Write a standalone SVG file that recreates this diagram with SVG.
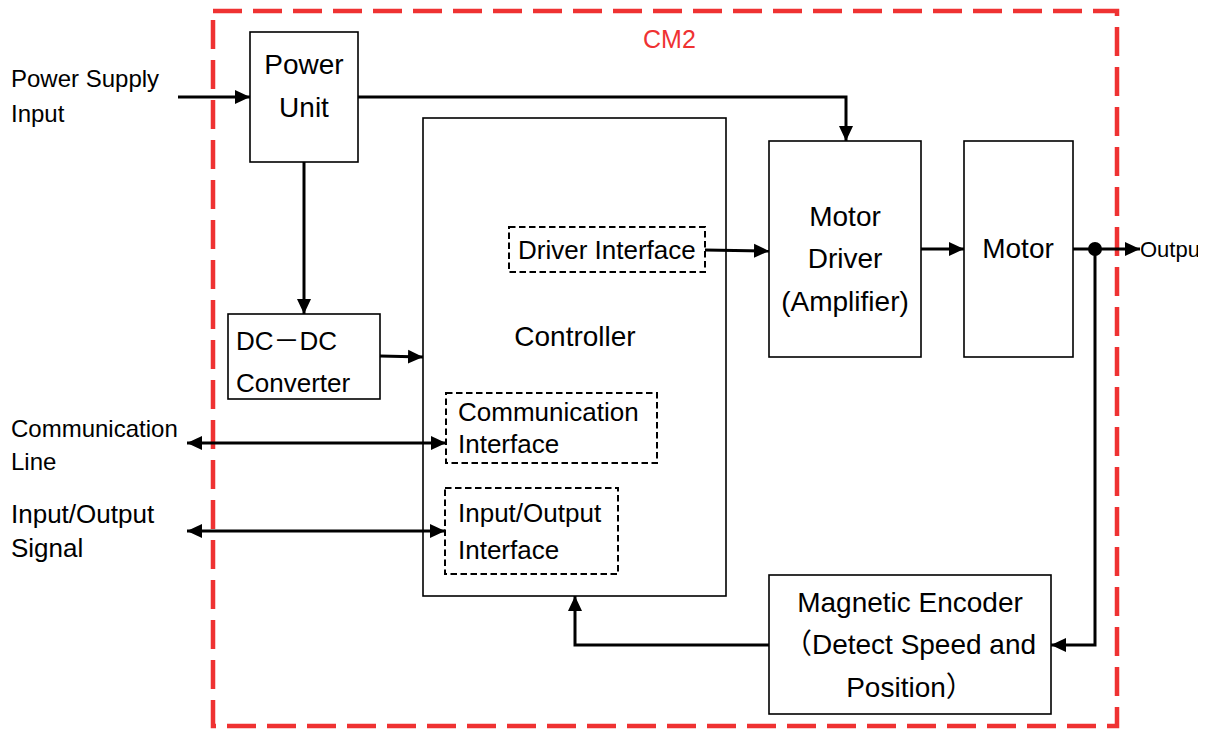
<svg xmlns="http://www.w3.org/2000/svg" width="1206" height="729" viewBox="0 0 1206 729">
<style>
  .box{fill:#fff;stroke:#000;stroke-width:1.6}
  .dbox{fill:#fff;stroke:#000;stroke-width:2;stroke-dasharray:6.5 3.5}
  .t{font-family:"Liberation Sans",Arial,sans-serif;fill:#000}
  .m{font-size:28px;text-anchor:middle}
  .s{font-size:26px}
  .lbl{font-size:24px}
  .wire{fill:none;stroke:#000;stroke-width:3}
</style>
<defs>
  <marker id="ah" markerUnits="userSpaceOnUse" markerWidth="16" markerHeight="16" viewBox="0 0 16 16" refX="15" refY="8" orient="auto-start-reverse">
    <path d="M0,1 L15,8 L0,15 Z" fill="#000"/>
  </marker>
  <clipPath id="clipOut"><rect x="1130" y="220" width="68" height="60"/></clipPath>
</defs>
<rect width="1206" height="729" fill="#fff"/>
<g id="cm2">
  <rect x="213" y="11" width="904" height="715" fill="none" stroke="#ef3232" stroke-width="4.5" stroke-dasharray="29 11"/>
  <text x="643" y="48" class="t" font-size="25" style="fill:#ef3232">CM2</text>
</g>
<g id="controller">
  <rect class="box" x="423" y="118" width="303" height="478"/>
  <text class="t m" x="575" y="346">Controller</text>
</g>
<g id="power-unit">
  <rect class="box" x="250" y="32" width="108" height="130"/>
  <text class="t m" x="304" y="74">Power</text>
  <text class="t m" x="304" y="117">Unit</text>
</g>
<g id="dcdc">
  <rect class="box" x="228" y="314" width="152" height="85"/>
  <text class="t s" x="236" y="350">DC<tspan font-family="'Noto Sans CJK SC',sans-serif">－</tspan>DC</text>
  <text class="t s" x="236" y="392">Converter</text>
</g>
<g id="driver-interface">
  <rect class="dbox" x="509" y="227" width="196" height="45"/>
  <text class="t s" x="518" y="259">Driver Interface</text>
</g>
<g id="comm-interface">
  <rect class="dbox" x="446" y="393" width="211" height="70"/>
  <text class="t s" x="458" y="421">Communication</text>
  <text class="t s" x="458" y="453">Interface</text>
</g>
<g id="io-interface">
  <rect class="dbox" x="445" y="488" width="173" height="86"/>
  <text class="t s" x="458" y="522">Input/Output</text>
  <text class="t s" x="458" y="559">Interface</text>
</g>
<g id="motor-driver">
  <rect class="box" x="769" y="141" width="152" height="216"/>
  <text class="t m" x="845" y="226">Motor</text>
  <text class="t m" x="845" y="268">Driver</text>
  <text class="t m" x="845" y="311">(Amplifier)</text>
</g>
<g id="motor">
  <rect class="box" x="964" y="141" width="109" height="216"/>
  <text class="t m" x="1018" y="258">Motor</text>
</g>
<g id="encoder">
  <rect class="box" x="769" y="575" width="282" height="139"/>
  <text class="t m" x="910" y="612">Magnetic Encoder</text>
  <text class="t m" x="910" y="654"><tspan font-family="'Noto Sans CJK SC',sans-serif">（</tspan>Detect Speed and</text>
  <text class="t m" x="910" y="697">Position<tspan font-family="'Noto Sans CJK SC',sans-serif">）</tspan></text>
</g>
<g id="labels">
  <text class="t lbl" x="11" y="87">Power Supply</text>
  <text class="t lbl" x="11" y="122">Input</text>
  <text class="t lbl" x="11" y="437">Communication</text>
  <text class="t lbl" x="11" y="470">Line</text>
  <text class="t" font-size="26" x="11" y="523">Input/Output</text>
  <text class="t" font-size="26" x="11" y="557">Signal</text>
  <text class="t" font-size="22" x="1140" y="257" clip-path="url(#clipOut)">Output</text>
</g>
<g id="connectors">
  <path class="wire" d="M178,97 H250" marker-end="url(#ah)"/>
  <path class="wire" d="M358,97 H846 V141" marker-end="url(#ah)"/>
  <path class="wire" d="M304,162 V314" marker-end="url(#ah)"/>
  <path class="wire" d="M380,356 L423,357" marker-end="url(#ah)"/>
  <path class="wire" d="M705,250 L769,251" marker-end="url(#ah)"/>
  <path class="wire" d="M921,249 H964" marker-end="url(#ah)"/>
  <path class="wire" d="M1073,249 H1140" marker-end="url(#ah)"/>
  <circle cx="1095" cy="249" r="7" fill="#000"/>
  <path class="wire" d="M1095,249 V645 H1051" marker-end="url(#ah)"/>
  <path class="wire" d="M769,645 H575 V596" marker-end="url(#ah)"/>
  <path class="wire" d="M187,443 H446" marker-start="url(#ah)" marker-end="url(#ah)"/>
  <path class="wire" d="M187,531 H445" marker-start="url(#ah)" marker-end="url(#ah)"/>
</g>
</svg>
